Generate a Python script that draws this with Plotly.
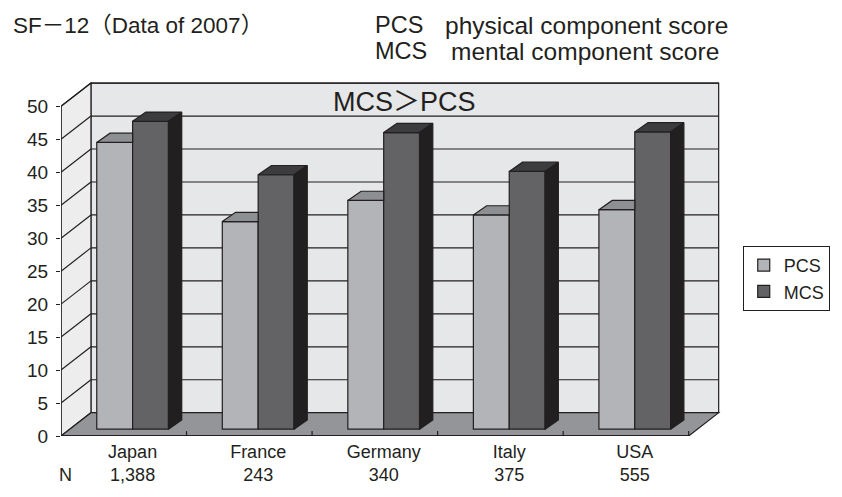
import plotly.graph_objects as go

# ---------------- data ----------------
categories = ["Japan", "France", "Germany", "Italy", "USA"]
n_values = ["1,388", "243", "340", "375", "555"]
pcs = [43.5, 31.5, 34.7, 32.5, 33.3]
mcs = [46.7, 38.6, 45.0, 39.1, 45.1]
y_ticks = list(range(0, 51, 5))

# ---------------- geometry (pseudo 3-D) ----------------
W, H = 842, 497
ML, MR, MT, MB = 61, 102, 80, 50
PW = W - ML - MR
PH = H - MT - MB
YMAX = 54.0
XPU = 127.8                 # px per category
XMAX = PW / XPU
YPU = PH / YMAX             # px per value unit

DEPTH_DX = 30.5 / XPU       # wall depth
DEPTH_DY = 24.0 / YPU
BAR_SHIFT = 9.0 / XPU       # bars sit a little back in depth
BAR_BASE = 7.0 / YPU
BAR_W = 36.5 / XPU
BAR_DDX = 13.5 / XPU        # bar depth
BAR_DDY = 9.5 / YPU
NCAT = len(categories)
TOP = y_ticks[-1]

INK = "#231f20"
FONT = "Liberation Sans, Arial, Helvetica, Noto Sans CJK JP, sans-serif"

C_BACK = "#e6e7e8"
C_LEFT = "#ededee"
C_FLOOR = "#939598"
C_PCS = "#b3b4b7"
C_PCS_TOP = "#8e8f92"
C_MCS = "#636365"
C_MCS_TOP = "#3c3c3e"
C_MCS_SIDE = "#221f20"


def px_to_paper_x(px):
    return (px - ML) / PW


def px_to_paper_y(py):
    return (H - MB - py) / PH


shapes = []
# back wall
shapes.append(dict(type="rect", xref="x", yref="y", layer="below",
                   x0=DEPTH_DX, x1=NCAT + DEPTH_DX, y0=DEPTH_DY, y1=TOP + DEPTH_DY,
                   fillcolor=C_BACK, line=dict(color=INK, width=1.2)))
# left wall
shapes.append(dict(type="path", xref="x", yref="y", layer="below",
                   path=f"M0,0 L0,{TOP} L{DEPTH_DX},{TOP + DEPTH_DY} L{DEPTH_DX},{DEPTH_DY} Z",
                   fillcolor=C_LEFT, line=dict(color=INK, width=1.2)))
# floor
shapes.append(dict(type="path", xref="x", yref="y", layer="below",
                   path=f"M0,0 L{NCAT},0 L{NCAT + DEPTH_DX},{DEPTH_DY} L{DEPTH_DX},{DEPTH_DY} Z",
                   fillcolor=C_FLOOR, line=dict(color=INK, width=1.2)))
# gridlines on walls
for v in y_ticks[1:]:
    shapes.append(dict(type="line", xref="x", yref="y", layer="below",
                       x0=DEPTH_DX, x1=NCAT + DEPTH_DX, y0=v + DEPTH_DY, y1=v + DEPTH_DY,
                       line=dict(color=INK, width=1.2)))
    shapes.append(dict(type="line", xref="x", yref="y", layer="below",
                       x0=0, x1=DEPTH_DX, y0=v, y1=v + DEPTH_DY,
                       line=dict(color=INK, width=1.2)))
# value axis line (front plane)
shapes.append(dict(type="line", xref="x", yref="y", layer="below",
                   x0=0, x1=0, y0=0, y1=TOP, line=dict(color=INK, width=1.3)))
# floor front edge
shapes.append(dict(type="line", xref="x", yref="y", layer="below",
                   x0=0, x1=NCAT, y0=0, y1=0, line=dict(color=INK, width=2)))
# category boundary ticks on floor edge
for i in range(1, NCAT + 1):
    shapes.append(dict(type="line", xref="x", yref="y", layer="below",
                       x0=i, x1=i, y0=0, y1=0.74, line=dict(color=INK, width=1.2)))

fig = go.Figure()

centers = [i + 0.5 + BAR_SHIFT for i in range(NCAT)]
pcs_x = [c - BAR_W / 2 for c in centers]
mcs_x = [c + BAR_W / 2 for c in centers]

fig.add_trace(go.Bar(name="PCS", x=pcs_x, y=pcs, base=BAR_BASE, width=BAR_W,
                     marker=dict(color=C_PCS, line=dict(color=INK, width=1.2)),
                     hoverinfo="skip"))
fig.add_trace(go.Bar(name="MCS", x=mcs_x, y=mcs, base=BAR_BASE, width=BAR_W,
                     marker=dict(color=C_MCS, line=dict(color=INK, width=1.2)),
                     hoverinfo="skip"))


def poly_trace(xs, ys, color):
    return go.Scatter(x=xs, y=ys, mode="lines", fill="toself", fillcolor=color,
                      line=dict(color=INK, width=1.2), showlegend=False,
                      hoverinfo="skip")


# PCS top faces (visible part, in front of MCS bar)
px_, py_ = [], []
for xc, v in zip(pcs_x, pcs):
    L, R = xc - BAR_W / 2, xc + BAR_W / 2
    T = BAR_BASE + v
    px_ += [L, L + BAR_DDX, R, R, L, None]
    py_ += [T, T + BAR_DDY, T + BAR_DDY, T, T, None]
fig.add_trace(poly_trace(px_, py_, C_PCS_TOP))

# MCS top and side faces
tx, ty = [], []
sx, sy = [], []
for xc, v in zip(mcs_x, mcs):
    L, R = xc - BAR_W / 2, xc + BAR_W / 2
    T = BAR_BASE + v
    B = BAR_BASE
    tx += [L, L + BAR_DDX, R + BAR_DDX, R, L, None]
    ty += [T, T + BAR_DDY, T + BAR_DDY, T, T, None]
    sx += [R, R + BAR_DDX, R + BAR_DDX, R, R, None]
    sy += [T, T + BAR_DDY, B + BAR_DDY, B, T, None]
fig.add_trace(poly_trace(tx, ty, C_MCS_TOP))
fig.add_trace(poly_trace(sx, sy, C_MCS_SIDE))

annotations = [
    dict(text="SF－12（Data of 2007）", xref="paper", yref="paper",
         x=px_to_paper_x(10), y=px_to_paper_y(23.5), xanchor="left", yanchor="middle",
         showarrow=False, font=dict(size=22.5, color=INK, family=FONT)),
    dict(text="PCS", xref="paper", yref="paper",
         x=px_to_paper_x(379), y=px_to_paper_y(23.5), xanchor="left", yanchor="middle",
         showarrow=False, font=dict(size=23.5, color=INK, family=FONT)),
    dict(text="physical component score", xref="paper", yref="paper",
         x=px_to_paper_x(450), y=px_to_paper_y(23.5), xanchor="left", yanchor="middle",
         showarrow=False, font=dict(size=24.5, color=INK, family=FONT)),
    dict(text="MCS", xref="paper", yref="paper",
         x=px_to_paper_x(379), y=px_to_paper_y(50.5), xanchor="left", yanchor="middle",
         showarrow=False, font=dict(size=23.5, color=INK, family=FONT)),
    dict(text="mental component score", xref="paper", yref="paper",
         x=px_to_paper_x(456), y=px_to_paper_y(50.5), xanchor="left", yanchor="middle",
         showarrow=False, font=dict(size=24.5, color=INK, family=FONT)),
    dict(text="MCS＞PCS", xref="x", yref="y",
         x=DEPTH_DX + NCAT / 2, y=(H - MB - 102.5) / YPU, xanchor="center", yanchor="middle",
         showarrow=False, font=dict(size=27, color=INK, family=FONT)),
    dict(text="N", xref="paper", yref="paper",
         x=px_to_paper_x(57), y=px_to_paper_y(487), xanchor="left", yanchor="middle",
         showarrow=False, font=dict(size=18, color=INK, family=FONT)),
]

fig.update_layout(
    width=W, height=H, autosize=False,
    margin=dict(l=ML, r=MR, t=MT, b=MB, pad=0),
    paper_bgcolor="white", plot_bgcolor="white",
    barmode="overlay",
    font=dict(family=FONT, color=INK, size=18),
    shapes=shapes,
    annotations=annotations,
    showlegend=True,
    legend=dict(x=px_to_paper_x(755), y=px_to_paper_y(251), xanchor="left", yanchor="top",
                bordercolor=INK, borderwidth=1, bgcolor="white",
                font=dict(size=18, color=INK, family=FONT), tracegroupgap=0),
    xaxis=dict(range=[0, XMAX], showgrid=False, zeroline=False, showline=False,
               tickmode="array", tickvals=centers,
               ticktext=[f"{c}<br>{n}" for c, n in zip(categories, n_values)],
               ticks="", ticklabelstandoff=3,
               tickfont=dict(size=18, color=INK), fixedrange=True),
    yaxis=dict(range=[0, YMAX], showgrid=False, zeroline=False, showline=False,
               tickmode="array", tickvals=y_ticks, ticks="outside", ticklen=4,
               tickcolor=INK, tickwidth=1.2, ticklabelstandoff=4,
               tickfont=dict(size=19, color=INK), fixedrange=True),
)

fig.write_html("out.html")
